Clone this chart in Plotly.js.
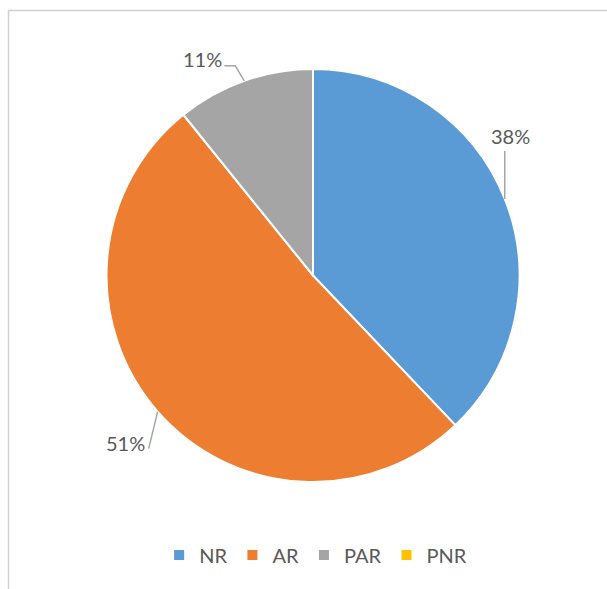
<!DOCTYPE html>
<html>
<head>
<meta charset="utf-8">
<script src="https://cdn.plot.ly/plotly-3.0.1.min.js"></script>
<style>html,body{margin:0;padding:0;background:#fff;}#chart{width:607px;height:589px;}</style>
</head>
<body>
<div id="chart"></div>
<script>
// ---- data ----
var categories = ['NR', 'AR', 'PAR', 'PNR'];
var shares = [37.9, 51.3, 10.8, 0];
var sliceColors = ['#5B9BD5', '#ED7D31', '#A5A5A5', '#FFC000'];

// ---- geometry / style ----
var W = 607, H = 589;
var cx = 313, cy = 275.5, R = 206.5;
var textColor = '#595959';
var lineColor = '#A6A6A6';
var fontFam = 'Lato, "Open Sans", sans-serif';

function px(x) { return x / W; }
function py(y) { return 1 - y / H; }

// label callout styling per slice (pixel offsets relative to slice's edge mid-point)
var callouts = {
  NR:  { path: [[0, 0], [0, -48]], text: [6, -63] },
  AR:  { path: [[0, 0], [-9, 37]], text: [-32, 31] },
  PAR: { path: [[0, 0], [-9, -15], [-20, -15]], text: [-42, -22] }
};

var total = shares.reduce(function (a, b) { return a + b; }, 0);
var annotations = [];
var shapes = [];
var cum = 0;
shares.forEach(function (v, i) {
  var start = cum;
  cum += v;
  if (v <= 0) return;
  var mid = (start + v / 2) / total * 2 * Math.PI; // clockwise from 12 o'clock
  var ex = cx + R * Math.sin(mid);
  var ey = cy - R * Math.cos(mid);
  var c = callouts[categories[i]];
  if (!c) return;
  var d = '';
  c.path.forEach(function (p, k) {
    d += (k === 0 ? 'M' : 'L') + px(ex + p[0]) + ',' + py(ey + p[1]);
  });
  shapes.push({ type: 'path', xref: 'paper', yref: 'paper', path: d,
    line: { color: lineColor, width: 1.5 } });
  annotations.push({
    xref: 'paper', yref: 'paper', showarrow: false,
    x: px(ex + c.text[0]), y: py(ey + c.text[1]),
    xanchor: 'center', yanchor: 'middle',
    text: Math.round(v / total * 100) + '%',
    font: { family: fontFam, size: 20, color: textColor }
  });
});

// chart-area border (left and top edges visible)
shapes.push({ type: 'path', xref: 'paper', yref: 'paper',
  path: 'M' + px(8.5) + ',' + py(620) + 'L' + px(8.5) + ',' + py(10.5) + 'L' + px(640) + ',' + py(10.5),
  line: { color: '#D0D0D0', width: 1.5 } });

var trace = {
  type: 'pie',
  labels: categories,
  values: shares,
  sort: false,
  direction: 'clockwise',
  rotation: 0,
  textinfo: 'none',
  hoverinfo: 'label+percent',
  marker: { colors: sliceColors, line: { color: '#FFFFFF', width: 2 } },
  domain: { x: [px(cx - R), px(cx + R)], y: [py(cy + R), py(cy - R)] }
};

var layout = {
  width: W, height: H,
  margin: { l: 0, r: 0, t: 0, b: 0, autoexpand: false },
  paper_bgcolor: '#FFFFFF',
  showlegend: true,
  legend: {
    orientation: 'h', x: 0.52, xanchor: 'center', y: py(555), yanchor: 'middle',
    font: { family: fontFam, size: 20, color: textColor },
    itemwidth: 30, traceorder: 'normal'
  },
  shapes: shapes,
  annotations: annotations
};

Plotly.newPlot('chart', [trace], layout, { displayModeBar: false, staticPlot: true });
</script>
</body>
</html>
